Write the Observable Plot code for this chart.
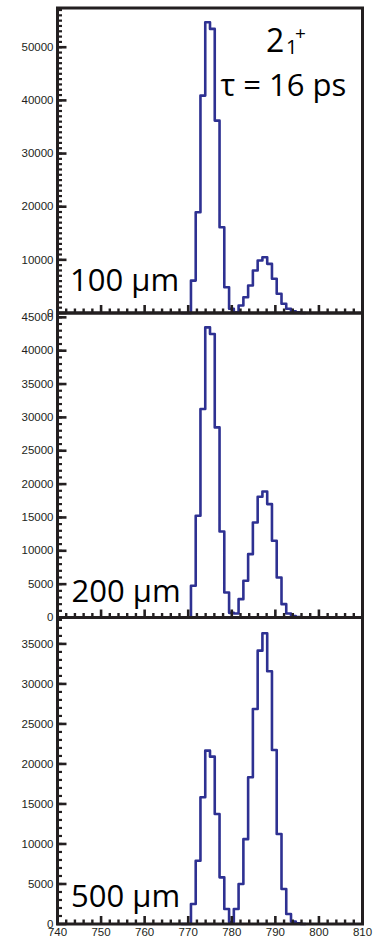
<!DOCTYPE html>
<html><head><meta charset="utf-8">
<script src="https://cdn.jsdelivr.net/npm/d3@7"></script>
<script src="https://cdn.jsdelivr.net/npm/@observablehq/plot@0.6"></script>
<style>
html,body{margin:0;padding:0;background:#fff;}
#chart{position:relative;width:380px;height:936px;overflow:hidden;background:#fff;}
#chart svg{position:absolute;left:0;}
</style></head><body><div id="chart"></div>
<script>
// ---- data ----
const binEdges = [768.44, 769.53, 770.63, 771.72, 772.81, 773.91, 775.00, 776.09, 777.19, 778.28,
  779.38, 780.47, 781.56, 782.66, 783.75, 784.84, 785.94, 787.03, 788.13, 789.22,
  790.31, 791.41, 792.50, 793.59, 794.69, 795.78, 796.88];
const counts100 = [0, 0, 6100, 18960, 40900, 54700, 53450, 36200, 16140, 4850,
  800, 150, 1410, 2970, 5170, 7990, 9870, 10500, 9250, 6430,
  3610, 1730, 790, 300, 120, 0];
const counts200 = [0, 0, 4750, 15250, 31260, 43500, 42500, 28500, 12900, 3750,
  700, 600, 2750, 5500, 9500, 14250, 18100, 18900, 17000, 11500,
  6000, 2000, 600, 200, 50, 0];
const counts500 = [0, 0, 2500, 7910, 15830, 21660, 20910, 13750, 5830, 1875,
  250, 1875, 5000, 10600, 18330, 26870, 34160, 36330, 31580, 21750,
  11250, 4375, 1250, 300, 100, 0];
const yTicks100 = [0, 10000, 20000, 30000, 40000, 50000];
const yTicks200 = [0, 5000, 10000, 15000, 20000, 25000, 30000, 35000, 40000, 45000];
const yTicks500 = [0, 5000, 10000, 15000, 20000, 25000, 30000, 35000];
const xTicks = [740, 750, 760, 770, 780, 790, 800, 810];
const xMinorTicks = [742, 744, 746, 748, 752, 754, 756, 758, 762, 764, 766, 768, 772, 774, 776, 778,
  782, 784, 786, 788, 792, 794, 796, 798, 802, 804, 806, 808];
const thicknessLabels = ["100 µm", "200 µm", "500 µm"];
const stateParts = ["2", "1", "+"];
const lifetimeLabel = "τ = 16 ps";

// ---- layout / style ----
const ink = "#231f20";
const blue = "#2e3192";
const W = 380, ML = 57, MR = 18;
const FW = W - ML - MR;
const panels = [
  {counts: counts100, yMax: 57380, yTicks: yTicks100, top: 0,   mt: 7.5, mb: 10,   h: 322.5, label: thicknessLabels[0], ldx: 12.5, ldy: -22, showX: false, state: true},
  {counts: counts200, yMax: 45650, yTicks: yTicks200, top: 300, mt: 12.5, mb: 10,  h: 327,   label: thicknessLabels[1], ldx: 14,   ldy: -15.5, showX: false},
  {counts: counts500, yMax: 38300, yTicks: yTicks500, top: 605, mt: 12, mb: 12.5,  h: 331,   label: thicknessLabels[2], ldx: 13.5, ldy: -17, showX: true}
];

const chart = document.getElementById("chart");
for (const p of panels) {
  const FH = p.h - p.mt - p.mb;
  const pts = binEdges.map((e, i) => ({x: e, y: p.counts[Math.min(i, p.counts.length - 1)]}));
  const minorY = d3.range(1000, p.yMax, 1000);
  const txt = {textAnchor: "start", lineAnchor: "bottom", fontFamily: "Open Sans", fill: "#000", frameAnchor: "top-left"};
  const marks = [
    Plot.line(pts, {x: "x", y: "y", curve: "step-after", stroke: blue, strokeWidth: 2.6}),
    Plot.frame({stroke: ink, strokeWidth: 3}),
    // inward ticks (ROOT style)
    Plot.tickY(minorY, {y: d => d, stroke: ink, strokeWidth: 2.2, insetRight: FW - 5}),
    Plot.tickY(p.yTicks, {y: d => d, stroke: ink, strokeWidth: 2.6, insetRight: FW - 9.5}),
    Plot.tickX(xMinorTicks, {x: d => d, stroke: ink, strokeWidth: 2.4, insetTop: FH - 4}),
    Plot.tickX(xTicks, {x: d => d, stroke: ink, strokeWidth: 2.6, insetTop: FH - 7.5}),
    Plot.axisY(p.yTicks, {tickSize: 0, tickPadding: 4, label: null, fill: ink, fontSize: 11.5, tickFormat: d => String(d)}),
    p.showX ? Plot.axisX(xTicks, {tickSize: 0, tickPadding: 3.5, label: null, fill: ink, fontSize: 11.5, tickFormat: d => String(d)})
            : Plot.axisX(xTicks, {tickSize: 0, label: null, tickFormat: () => ""}),
    Plot.text([p.label], {text: d => d, frameAnchor: "bottom-left", dx: p.ldx, dy: p.ldy, textAnchor: "start", lineAnchor: "bottom", fontFamily: "Open Sans", fontSize: 31, fill: "#000"})
  ];
  if (p.state) {
    marks.push(
      Plot.text([stateParts[0]], {...txt, text: d => d, dx: 208.5, dy: 44, fontSize: 32}),
      Plot.text([stateParts[1]], {...txt, text: d => d, dx: 228.5, dy: 45.5, fontSize: 20}),
      Plot.text([stateParts[2]], {...txt, text: d => d, dx: 237.5, dy: 32, fontSize: 19}),
      Plot.text([lifetimeLabel], {...txt, text: d => d, dx: 163, dy: 88, fontSize: 31})
    );
  }
  const svg = Plot.plot({
    width: W, height: p.h,
    marginLeft: ML, marginRight: MR, marginTop: p.mt, marginBottom: p.mb,
    x: {domain: [740, 810]},
    y: {domain: [0, p.yMax]},
    style: {background: "transparent", overflow: "visible", fontFamily: "'Liberation Sans', Arial, sans-serif", fontSize: "11.5px"},
    marks
  });
  svg.style.top = p.top + "px";
  chart.appendChild(svg);
}
</script></body></html>
